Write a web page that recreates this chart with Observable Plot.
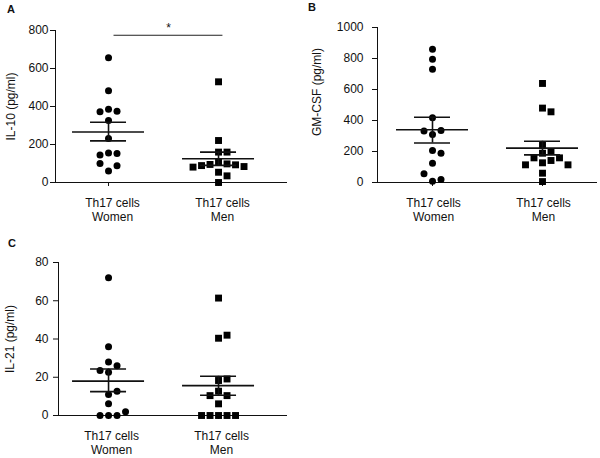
<!DOCTYPE html>
<html><head><meta charset="utf-8">
<script src="https://cdn.jsdelivr.net/npm/d3@7"></script>
<script src="https://cdn.jsdelivr.net/npm/@observablehq/plot@0.6"></script>
<style>
body{margin:0;background:#fff;font-family:"Liberation Sans",Arial,sans-serif;}
#root{position:relative;width:600px;height:458px;background:#fff;}
.panel{position:absolute;}
.plabel{position:absolute;font-weight:bold;font-size:11px;line-height:12px;color:#111;}
</style></head><body><div id="root"></div>
<script>
const groups = ["Th17 cells\nWomen", "Th17 cells\nMen"];
const panelLetters = ["A", "B", "C"];

// Panel A: IL-10 (pg/ml)
const il10Women = [656, 483, 385, 375, 372, 326, 231, 155, 152, 145, 61, 88, 100];
const il10Men = [530, 221, 160, 160, 107, 98, 95, 93, 89, 84, 81, 54, 35, 0];
const il10Mean = [266, 125];
const il10SemHi = [317, 160];
const il10SemLo = [219, 90];
const il10Ticks = [0, 200, 400, 600, 800];
const il10Sig = {x1: 1.05, x2: 2.04, y: 775, text: "*"};

// Panel B: GM-CSF (pg/ml)
const gmWomen = [860, 795, 730, 418, 310, 335, 332, 206, 189, 125, 8, 19, 56];
const gmMen = [639, 480, 456, 245, 200, 189, 159, 159, 142, 127, 114, 114, 60, 6];
const gmMean = [340, 222];
const gmSemHi = [421, 266];
const gmSemLo = [255, 178];
const gmTicks = [0, 200, 400, 600, 800, 1000];

// Panel C: IL-21 (pg/ml)
const il21Women = [72, 36, 28, 22.6, 26, 23.5, 11, 12.7, 6.2, 0, 0, 0, 2];
const il21Men = [61.4, 40.4, 42, 18.3, 19.1, 12.7, 10.4, 10.4, 6.1, 0, 0, 0, 0, 0];
const il21Mean = [18, 15.6];
const il21SemHi = [24.3, 20.5];
const il21SemLo = [12.5, 10.6];
const il21Ticks = [0, 20, 40, 60, 80];

function makePanel(c) {
  const pxX = (c.width - c.ml - c.mr) / (c.xDomain[1] - c.xDomain[0]);
  const pxY = (c.height - c.mt - c.mb) / c.yMax;
  const stepX = 8.5 / pxX;
  function swarm(values, gi) {
    const placed = [];
    return values.map(v => {
      for (let j = 0; ; j++) {
        const k = j === 0 ? 0 : (j % 2 ? (j + 1) / 2 : -j / 2);
        if (!placed.some(p => p.k === k && Math.abs(p.v - v) * pxY < 8)) {
          placed.push({k, v});
          return {x: gi + k * stepX, y: v};
        }
      }
    });
  }
  const pos = [1, 2];
  const wPts = swarm(c.women, 1), mPts = swarm(c.men, 2);
  const stats = pos.map((p, i) => ({pos: p, mean: c.mean[i], hi: c.hi[i], lo: c.lo[i], label: groups[i]}));
  const meanHalf = 36 / pxX, capHalf = 18 / pxX;
  const marks = [
    Plot.ruleX([c.xDomain[0]], {stroke: "#111", strokeWidth: 1}),
    Plot.ruleY([0], {stroke: "#111", strokeWidth: 1}),
    Plot.axisY({ticks: c.ticks, tickSize: 5, tickPadding: c.tickPad, label: null, tickFormat: d => String(d)}),
    Plot.axisX({ticks: pos, tickSize: 4, tickFormat: () => "", label: null}),
    Plot.text(stats, {x: "pos", text: "label", frameAnchor: "bottom", lineAnchor: "top", dy: 14, lineHeight: 1.2, dx: c.catDx}),
    Plot.text([c.label], {text: d => d, frameAnchor: "left", textAnchor: "middle", rotate: -90, dx: c.labelDx, dy: c.labelDy}),
    Plot.dot(wPts, {x: "x", y: "y", r: 3.5, fill: "#000", symbol: "circle"}),
    Plot.dot(mPts, {x: "x", y: "y", r: 3.9, fill: "#000", symbol: "square"}),
    Plot.ruleY(stats, {y: "mean", x1: d => d.pos - meanHalf, x2: d => d.pos + meanHalf, stroke: "#111", strokeWidth: 1.6}),
    Plot.ruleY(stats, {y: "hi", x1: d => d.pos - capHalf, x2: d => d.pos + capHalf, stroke: "#111", strokeWidth: 1.6}),
    Plot.ruleY(stats, {y: "lo", x1: d => d.pos - capHalf, x2: d => d.pos + capHalf, stroke: "#111", strokeWidth: 1.6}),
    Plot.ruleX(stats, {x: "pos", y1: "lo", y2: "hi", stroke: "#111", strokeWidth: 1.6})
  ];
  if (c.sig) {
    marks.push(Plot.ruleY([c.sig], {y: "y", x1: "x1", x2: "x2", stroke: "#222", strokeWidth: 1}));
    marks.push(Plot.text([c.sig], {x: d => (d.x1 + d.x2) / 2, y: "y", text: "text", dy: -7}));
  }
  const svg = Plot.plot({
    width: c.width, height: c.height,
    marginLeft: c.ml, marginRight: c.mr, marginTop: c.mt, marginBottom: c.mb,
    x: {domain: c.xDomain},
    y: {domain: [0, c.yMax]},
    style: {fontFamily: '"Liberation Sans", Arial, sans-serif', fontSize: "12px", color: "#111", background: "transparent", overflow: "visible"},
    marks
  });
  const div = document.createElement("div");
  div.className = "panel";
  div.style.left = c.left + "px";
  div.style.top = c.top + "px";
  div.appendChild(svg);
  document.getElementById("root").appendChild(div);
  const lab = document.createElement("div");
  lab.className = "plabel";
  lab.textContent = c.letter;
  lab.style.left = c.letterX + "px";
  lab.style.top = c.letterY + "px";
  document.getElementById("root").appendChild(lab);
}

makePanel({left: 0, top: 0, width: 300, height: 230, ml: 55, mr: 13, mt: 30, mb: 48,
  xDomain: [0.518, 2.627], yMax: 800, ticks: il10Ticks, tickPad: 2,
  label: "IL-10 (pg/ml)", labelDx: -44, labelDy: 0, catDx: 4,
  women: il10Women, men: il10Men, mean: il10Mean, hi: il10SemHi, lo: il10SemLo, sig: il10Sig,
  letter: panelLetters[0], letterX: 7, letterY: 3});

makePanel({left: 300, top: 0, width: 300, height: 230, ml: 77, mr: 3, mt: 27, mb: 48,
  xDomain: [0.5, 2.5], yMax: 1000, ticks: gmTicks, tickPad: 9,
  label: "GM-CSF (pg/ml)", labelDx: -60, labelDy: -13, catDx: 1,
  women: gmWomen, men: gmMen, mean: gmMean, hi: gmSemHi, lo: gmSemLo,
  letter: panelLetters[1], letterX: 308, letterY: 1});

makePanel({left: 0, top: 230, width: 300, height: 228, ml: 58, mr: 13, mt: 32, mb: 43,
  xDomain: [0.545, 2.627], yMax: 80, ticks: il21Ticks, tickPad: 5,
  label: "IL-21 (pg/ml)", labelDx: -48, labelDy: 0, catDx: 3,
  women: il21Women, men: il21Men, mean: il21Mean, hi: il21SemHi, lo: il21SemLo,
  letter: panelLetters[2], letterX: 8, letterY: 237});
</script>
</body></html>
